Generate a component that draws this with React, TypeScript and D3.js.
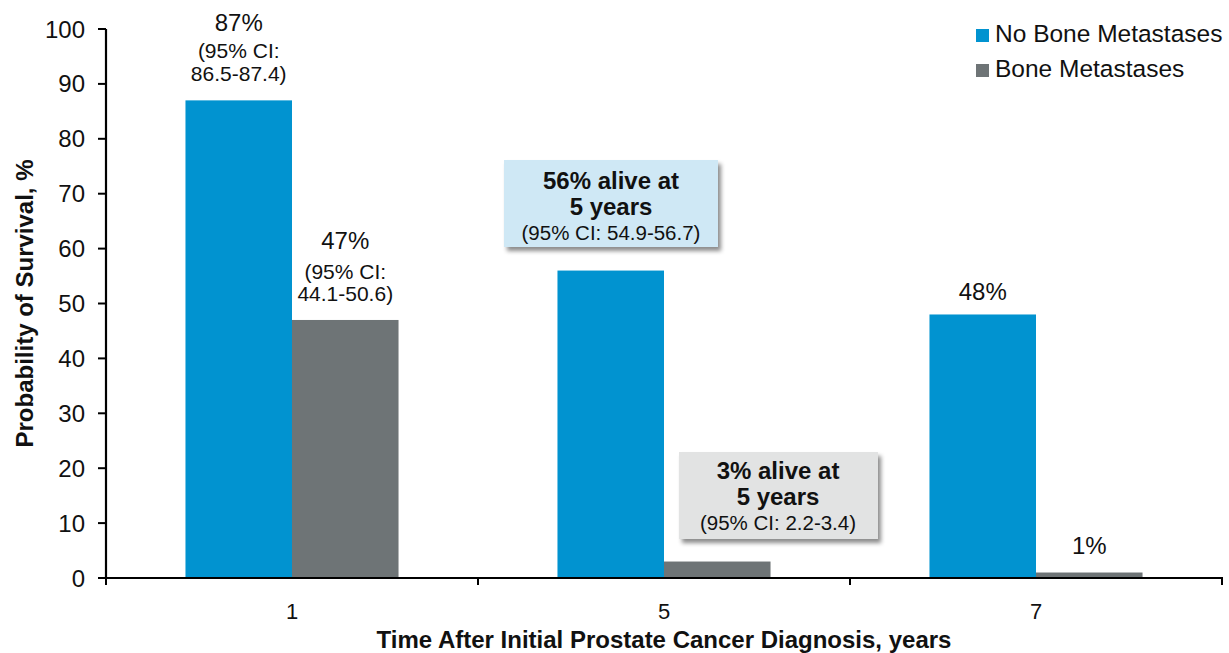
import React from "react";
import * as d3 from "d3";

const categories = ["1", "5", "7"];
const seriesNames = ["No Bone Metastases", "Bone Metastases"];
const noBoneMets = [87, 56, 48];
const boneMets = [47, 3, 1];
const yTicks = [0, 10, 20, 30, 40, 50, 60, 70, 80, 90, 100];
const colors = ["#0193d0", "#6e7476"];

const W = 1229;
const H = 653;
const FONT = "Liberation Sans, Arial, sans-serif";

export default function App() {
  const x0 = d3.scaleBand<string>().domain(categories).range([106, 1222]).padding(0);
  const x1 = d3
    .scaleBand<string>()
    .domain(seriesNames)
    .range([0, x0.bandwidth()])
    .paddingInner(0)
    .paddingOuter(0.746);
  const y = d3.scaleLinear().domain([0, 100]).range([578, 29]);
  const values = [noBoneMets, boneMets];

  const bars: React.ReactNode[] = [];
  categories.forEach((c, i) => {
    seriesNames.forEach((s, j) => {
      const v = values[j][i];
      bars.push(
        <rect
          key={c + s}
          x={(x0(c) ?? 0) + (x1(s) ?? 0)}
          y={y(v)}
          width={x1.bandwidth()}
          height={y(0) - y(v)}
          fill={colors[j]}
        />
      );
    });
  });

  const cx = (ci: number, sj: number) =>
    (x0(categories[ci]) ?? 0) + (x1(seriesNames[sj]) ?? 0) + x1.bandwidth() / 2;

  const xEdges = [...categories.map((c) => x0(c) ?? 0), x0.range()[1]];

  return (
    <div style={{ position: "absolute", left: 0, top: 0 }}>
      <svg width={W} height={H} style={{ display: "block", fontFamily: FONT }}>
        <defs>
          <filter id="shadow" x="-10%" y="-10%" width="130%" height="140%">
            <feDropShadow dx="3" dy="4" stdDeviation="2" floodColor="#000" floodOpacity="0.45" />
          </filter>
        </defs>
        <rect width={W} height={H} fill="#fff" />
        {bars}

        {/* Y axis */}
        <line x1={106} x2={106} y1={y(100)} y2={y(0) + 1} stroke="#000" strokeWidth={2.2} />
        {yTicks.map((t) => (
          <g key={t}>
            <line x1={98} x2={106} y1={y(t)} y2={y(t)} stroke="#000" strokeWidth={2} />
            <text x={85} y={y(t) + 8.5} fontSize={24} textAnchor="end" fill="#111">
              {t}
            </text>
          </g>
        ))}
        {/* X axis */}
        <line x1={105} x2={1223} y1={y(0)} y2={y(0)} stroke="#000" strokeWidth={2.2} />
        {xEdges.map((e, i) => (
          <line key={i} x1={e} x2={e} y1={y(0)} y2={y(0) + 7} stroke="#000" strokeWidth={2} />
        ))}
        {categories.map((c) => (
          <text
            key={c}
            x={(x0(c) ?? 0) + x0.bandwidth() / 2}
            y={619}
            fontSize={22}
            textAnchor="middle"
            fill="#111"
          >
            {c}
          </text>
        ))}

        {/* Axis titles */}
        <text x={664} y={648} fontSize={24} fontWeight="bold" textAnchor="middle" fill="#111">
          Time After Initial Prostate Cancer Diagnosis, years
        </text>
        <text
          transform={`translate(33,${(y(0) + y(100)) / 2}) rotate(-90)`}
          fontSize={24}
          fontWeight="bold"
          textAnchor="middle"
          fill="#111"
        >
          Probability of Survival, %
        </text>

        {/* Bar labels */}
        <g fill="#111" textAnchor="middle">
          <text x={cx(0, 0)} y={y(noBoneMets[0]) - 69} fontSize={24}>
            {noBoneMets[0]}%
          </text>
          <text x={cx(0, 0)} y={y(noBoneMets[0]) - 42} fontSize={21}>
            (95% CI:
          </text>
          <text x={cx(0, 0)} y={y(noBoneMets[0]) - 19} fontSize={21}>
            86.5-87.4)
          </text>

          <text x={cx(0, 1)} y={y(boneMets[0]) - 71} fontSize={24}>
            {boneMets[0]}%
          </text>
          <text x={cx(0, 1)} y={y(boneMets[0]) - 41} fontSize={21}>
            (95% CI:
          </text>
          <text x={cx(0, 1)} y={y(boneMets[0]) - 19} fontSize={21}>
            44.1-50.6)
          </text>

          <text x={cx(2, 0)} y={y(noBoneMets[2]) - 14} fontSize={24}>
            {noBoneMets[2]}%
          </text>
          <text x={cx(2, 1)} y={y(boneMets[2]) - 19} fontSize={24}>
            {boneMets[2]}%
          </text>
        </g>

        {/* Callout box 1 */}
        <g>
          <rect x={504} y={160} width={214} height={87} fill="#cfe8f5" filter="url(#shadow)" />
          <g fill="#111" textAnchor="middle">
            <text x={611} y={189} fontSize={24} fontWeight="bold">
              56% alive at
            </text>
            <text x={611} y={215} fontSize={24} fontWeight="bold">
              5 years
            </text>
            <text x={611} y={240} fontSize={20.5}>
              (95% CI: 54.9-56.7)
            </text>
          </g>
        </g>

        {/* Callout box 2 */}
        <g>
          <rect x={679} y={452} width={199} height={87} fill="#e2e3e3" filter="url(#shadow)" />
          <g fill="#111" textAnchor="middle">
            <text x={778} y={479} fontSize={24} fontWeight="bold">
              3% alive at
            </text>
            <text x={778} y={505} fontSize={24} fontWeight="bold">
              5 years
            </text>
            <text x={778} y={530} fontSize={20.5}>
              (95% CI: 2.2-3.4)
            </text>
          </g>
        </g>

        {/* Legend */}
        {seriesNames.map((s, j) => (
          <g key={s}>
            <rect x={976} y={29 + j * 35} width={13} height={13} fill={colors[j]} />
            <text x={995} y={42 + j * 35} fontSize={24.5} fill="#111">
              {s}
            </text>
          </g>
        ))}
      </svg>
    </div>
  );
}
